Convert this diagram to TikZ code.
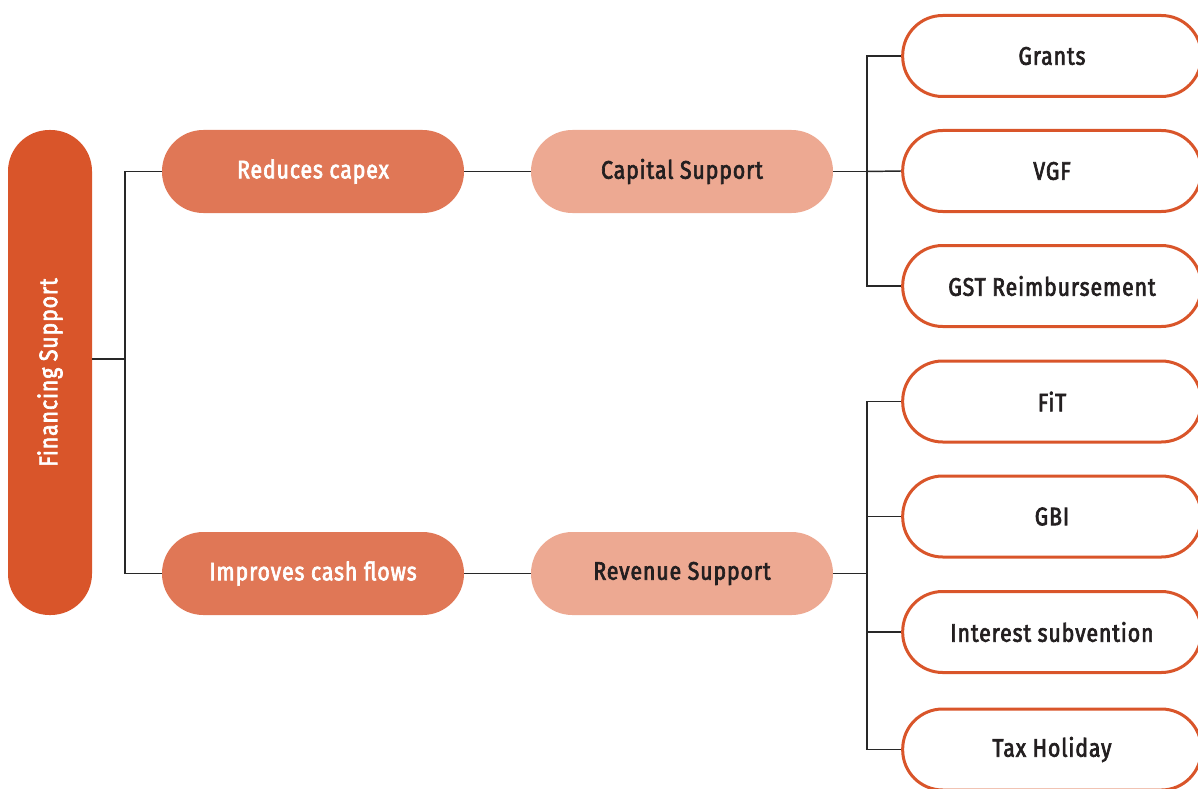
\documentclass[tikz,border=0pt]{standalone}
\usepackage{fontspec}
\setmainfont{Fira Sans}[FakeStretch=0.84, LetterSpace=3.5, BoldFont={Fira Sans}, BoldFeatures={FakeBold=2.6}]
\usepackage{graphicx}
\usepackage{tikz}
\usetikzlibrary{positioning,calc}

\definecolor{finorange}{RGB}{217,85,42}
\definecolor{midorange}{RGB}{224,119,86}
\definecolor{paleorange}{RGB}{237,169,146}
\definecolor{linegray}{RGB}{40,40,40}
\definecolor{textdark}{RGB}{35,31,32}

\tikzset{
  pill/.style={rounded corners=31pt, minimum width=226.5pt, minimum height=62.25pt, inner sep=0pt, font=\fontsize{19}{22}\selectfont\bfseries},
  effect/.style={pill, fill=midorange, text=white},
  support/.style={pill, fill=paleorange, text=textdark},
  scheme/.style={pill, draw=finorange, line width=2.25pt, fill=white, text=textdark, minimum width=224pt, minimum height=60.75pt, rounded corners=30pt},
  link/.style={draw=linegray, line width=1.1pt}
}

\begin{document}
\begin{tikzpicture}[x=0.75pt,y=-0.75pt]
    \useasboundingbox (0,0) rectangle (1198,788);

    % Root
    \node[pill, fill=finorange, text=white, minimum width=63pt, minimum height=363.75pt] (fin) at (50,372.5) {\rotatebox{90}{Financing Support}};

    % Effects
    \node[effect] (reduce) at (313,171.5) {Reduces capex};
    \node[effect] (improve) at (313,573.5) {Improves cash flows};

    % Support types
    \node[support] (capital) at (682,171.5) {Capital Support};
    \node[support] (revenue) at (682,573.5) {Revenue Support};

    % Capital schemes
    \node[scheme] (grants) at (1052,56) {Grants};
    \node[scheme] (vgf) at (1052,171) {VGF};
    \node[scheme] (gst) at (1052,286) {GST Reimbursement};

    % Revenue schemes
    \node[scheme] (fit) at (1052,401.5) {FiT};
    \node[scheme] (gbi) at (1052,516.5) {GBI};
    \node[scheme] (interest) at (1052,632) {Interest subvention};
    \node[scheme] (tax) at (1052,749.5) {Tax Holiday};

    % Root fork
    \coordinate (rootfork) at (125,359);
    \draw[link] (fin.east |- rootfork) -- (rootfork);
    \draw[link] (reduce.west) -| (rootfork) |- (improve.west);

    % Effect to support
    \draw[link] (reduce.east) -- (capital.west);
    \draw[link] (improve.east) -- (revenue.west);

    % Capital fork
    \coordinate (capfork) at (867,171.5);
    \draw[link] (capital.east) -- (capfork);
    \draw[link] (grants.west) -| (capfork) |- (gst.west);
    \draw[link] (capfork) -- (vgf.west);

    % Revenue fork
    \coordinate (revfork) at (867,573.5);
    \draw[link] (revenue.east) -- (revfork);
    \draw[link] (fit.west) -| (revfork) |- (tax.west);
    \draw[link] (gbi.west -| revfork) -- (gbi.west);
    \draw[link] (interest.west -| revfork) -- (interest.west);
\end{tikzpicture}
\end{document}
